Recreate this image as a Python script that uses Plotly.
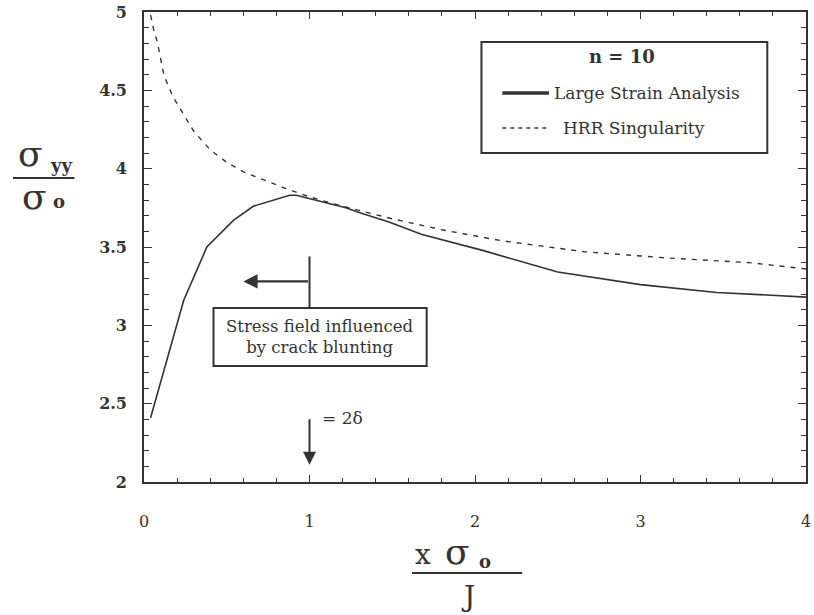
import plotly.graph_objects as go

# Data
large_strain_x = [0.04, 0.24, 0.38, 0.54, 0.66, 0.88, 0.92, 1.22, 1.30, 1.48, 1.68, 2.04, 2.50, 3.00, 3.46, 4.00]
large_strain_y = [2.41, 3.16, 3.50, 3.67, 3.76, 3.83, 3.83, 3.75, 3.72, 3.66, 3.58, 3.48, 3.34, 3.26, 3.21, 3.18]

hrr_x = [0.04, 0.06, 0.08, 0.10, 0.12, 0.15, 0.18, 0.22, 0.30, 0.40, 0.50, 0.60, 0.74, 0.84, 1.00, 1.20, 1.50, 1.80, 2.16, 2.66, 3.16, 3.66, 4.00]
hrr_y = [4.98, 4.88, 4.81, 4.70, 4.60, 4.52, 4.45, 4.38, 4.24, 4.12, 4.04, 3.98, 3.92, 3.88, 3.82, 3.76, 3.68, 3.61, 3.54, 3.47, 3.43, 3.40, 3.36]

x_ticks = [0, 1, 2, 3, 4]
x_tick_labels = ["0", "1", "2", "3", "4"]
y_ticks = [2, 2.5, 3, 3.5, 4, 4.5, 5]
y_tick_labels = ["2", "2.5", "3", "3.5", "4", "4.5", "5"]

series_names = ["Large Strain Analysis", "HRR Singularity"]
legend_title = "n = 10"
box_text = "Stress field influenced<br>by crack blunting"
delta_text = "= 2δ"

INK = "#333333"
FONT = "DejaVu Serif"

W, H = 814, 615
L, R, T, B = 144, 3, 12, 133
PW, PH = W - L - R, H - T - B


def px(xp):  # screen pixel -> paper x
    return (xp - L) / PW


def py(yp):  # screen pixel -> paper y
    return (H - B - yp) / PH


fig = go.Figure()
fig.add_trace(go.Scatter(x=large_strain_x, y=large_strain_y, mode="lines",
                         name=series_names[0], line=dict(color=INK, width=1.6)))
fig.add_trace(go.Scatter(x=hrr_x, y=hrr_y, mode="lines", name=series_names[1],
                         line=dict(color=INK, width=1.4, dash="5px,6px")))

shapes = []
annotations = []


def text(x, y, s, size, xanchor="center", weight="normal", ref="paper"):
    xr, yr = ("x", "y") if ref == "data" else ("paper", "paper")
    annotations.append(dict(xref=xr, yref=yr, x=x, y=y, text=s, showarrow=False,
                            xanchor=xanchor, yanchor="middle",
                            font=dict(family=FONT, size=size, color=INK, weight=weight)))


# Legend box (manual)
shapes.append(dict(type="rect", xref="paper", yref="paper", x0=px(484), x1=px(772), y0=py(153), y1=py(42),
                   line=dict(color=INK, width=2), fillcolor="white", layer="above"))
text(px(626), py(57), legend_title, 18, weight="bold")
shapes.append(dict(type="line", xref="paper", yref="paper", x0=px(505), x1=px(552), y0=py(93), y1=py(93),
                   line=dict(color=INK, width=3.5), layer="above"))
text(px(555), py(93), series_names[0], 17, xanchor="left")
shapes.append(dict(type="line", xref="paper", yref="paper", x0=px(505), x1=px(550), y0=py(128), y1=py(128),
                   line=dict(color=INK, width=1.6, dash="4px,4px"), layer="above"))
text(px(564), py(128), series_names[1], 17, xanchor="left")

# Crack-blunting box
shapes.append(dict(type="rect", xref="x", yref="y", x0=0.42, x1=1.708, y0=2.74, y1=3.11,
                   line=dict(color=INK, width=2), fillcolor="white"))
text(1.064, 2.925, box_text, 16.5, ref="data")
shapes.append(dict(type="line", xref="x", yref="y", x0=1.0, x1=1.0, y0=3.11, y1=3.44,
                   line=dict(color=INK, width=2)))
annotations.append(dict(xref="x", yref="y", x=0.60, y=3.28, ax=1.0, ay=3.28, axref="x", ayref="y",
                        text="", showarrow=True, arrowhead=2, arrowsize=1.3, arrowwidth=2.2, arrowcolor=INK))

# = 2 delta arrow
annotations.append(dict(xref="x", yref="y", x=1.0, y=2.11, ax=1.0, ay=2.41, axref="x", ayref="y",
                        text="", showarrow=True, arrowhead=2, arrowsize=1.3, arrowwidth=2.0, arrowcolor=INK))
text(1.065, 2.41, delta_text, 17, xanchor="left", ref="data")

# Y axis title as a fraction  sigma_yy / sigma_o
text(px(30), py(153), "σ", 36)
text(px(60), py(165), "yy", 18, weight="bold")
shapes.append(dict(type="line", xref="paper", yref="paper", x0=px(12), x1=px(74), y0=py(178), y1=py(178),
                   line=dict(color=INK, width=2)))
text(px(34), py(197), "σ", 36)
text(px(58), py(201), "o", 18, weight="bold")

# X axis title as a fraction  x sigma_o / J
text(px(425), py(554), "x", 28)
text(px(460), py(551), "σ", 36)
text(px(488), py(561), "o", 18, weight="bold")
shapes.append(dict(type="line", xref="paper", yref="paper", x0=px(414), x1=px(525), y0=py(573), y1=py(573),
                   line=dict(color=INK, width=2)))
text(px(470), py(596), "J", 28)

fig.update_layout(
    width=W, height=H,
    margin=dict(l=L, r=R, t=T, b=B),
    paper_bgcolor="white", plot_bgcolor="white",
    showlegend=False,
    shapes=shapes, annotations=annotations,
    xaxis=dict(range=[0, 4], tickvals=x_ticks, ticktext=x_tick_labels, showgrid=False, zeroline=False,
               showline=True, linecolor=INK, linewidth=1.6, mirror="ticks", ticks="inside", ticklen=7,
               tickwidth=1.2, tickcolor=INK, ticklabelstandoff=24, ticklabeloverflow="allow",
               tickfont=dict(family=FONT, size=16, color=INK),
               minor=dict(dtick=0.2, ticks="inside", ticklen=4, tickwidth=1, tickcolor=INK, showgrid=False)),
    yaxis=dict(range=[2, 5], tickvals=y_ticks, ticktext=y_tick_labels, showgrid=False, zeroline=False,
               showline=True, linecolor=INK, linewidth=1.6, mirror="ticks", ticks="inside", ticklen=8,
               tickwidth=1.2, tickcolor=INK, ticklabelstandoff=12, ticklabeloverflow="allow",
               tickfont=dict(family=FONT, size=16, color=INK, weight="bold"),
               minor=dict(dtick=0.1, ticks="inside", ticklen=5, tickwidth=1, tickcolor=INK, showgrid=False)),
)

fig.write_html("out.html", config={"displayModeBar": False},
               post_script="document.body.style.margin='0px';")
